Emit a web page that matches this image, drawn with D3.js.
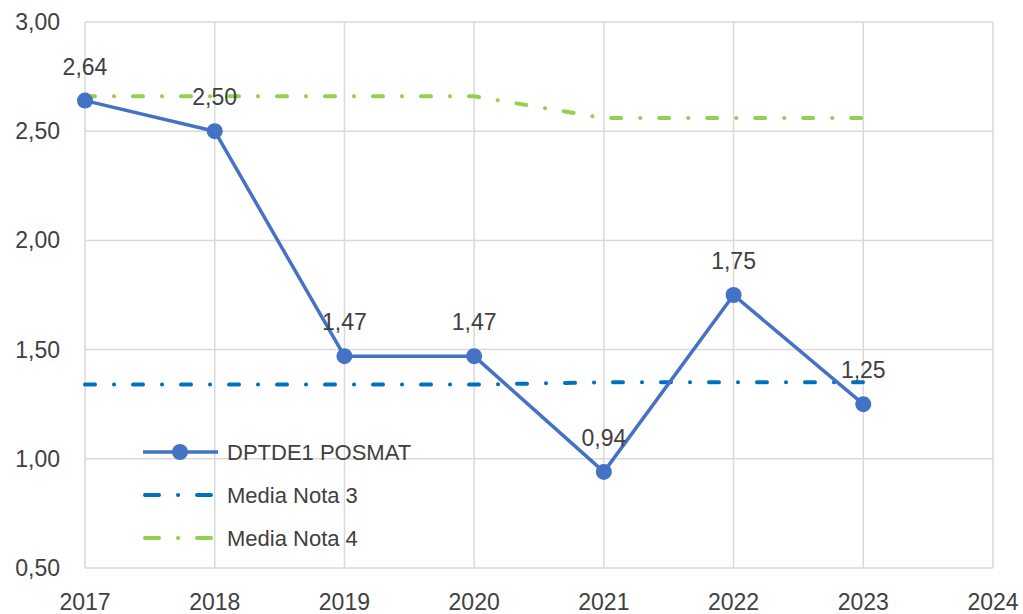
<!DOCTYPE html>
<html>
<head>
<meta charset="utf-8">
<script src="https://cdn.jsdelivr.net/npm/d3@7"></script>
<style>
  body { margin: 0; background: #fff; }
  text { font-family: "Liberation Sans", "DejaVu Sans", sans-serif; fill: #404040; }
</style>
</head>
<body>
<div id="chart"></div>
<script>
const years = [2017, 2018, 2019, 2020, 2021, 2022, 2023];
const posmat = [2.64, 2.50, 1.47, 1.47, 0.94, 1.75, 1.25];
const mediaNota3 = [1.34, 1.34, 1.34, 1.34, 1.35, 1.35, 1.35];
const mediaNota4 = [2.66, 2.66, 2.66, 2.66, 2.56, 2.56, 2.56];
const xTicks = [2017, 2018, 2019, 2020, 2021, 2022, 2023, 2024];
const yTicks = [0.5, 1.0, 1.5, 2.0, 2.5, 3.0];

const width = 1023, height = 614;
const margin = { top: 22, right: 30, bottom: 46, left: 85 };

const svg = d3.select("#chart").append("svg")
    .attr("width", width)
    .attr("height", height);

const x = d3.scaleLinear().domain([2017, 2024]).range([margin.left, width - margin.right]);
const y = d3.scaleLinear().domain([0.5, 3.0]).range([height - margin.bottom, margin.top]);

const fmt = (v) => d3.format(".2f")(v).replace(".", ",");

// grid
svg.append("g")
    .selectAll("line.h")
    .data(yTicks)
    .join("line")
        .attr("x1", x(2017)).attr("x2", x(2024))
        .attr("y1", d => y(d)).attr("y2", d => y(d))
        .attr("stroke", "#d9d9d9").attr("stroke-width", 1.5);

svg.append("g")
    .selectAll("line.v")
    .data(xTicks)
    .join("line")
        .attr("x1", d => x(d)).attr("x2", d => x(d))
        .attr("y1", y(0.5)).attr("y2", y(3.0))
        .attr("stroke", "#d9d9d9").attr("stroke-width", 1.5);

// axis labels
svg.append("g")
    .selectAll("text")
    .data(yTicks)
    .join("text")
        .attr("x", 60)
        .attr("y", d => y(d))
        .attr("dy", "0.35em")
        .attr("text-anchor", "end")
        .style("font-size", "23px")
        .text(fmt);

svg.append("g")
    .selectAll("text")
    .data(xTicks)
    .join("text")
        .attr("x", d => x(d))
        .attr("y", 602)
        .attr("dy", "0.35em")
        .attr("text-anchor", "middle")
        .style("font-size", "23px")
        .text(d => d);

const dashPattern = "10,19,0.1,18.9";
const line = d3.line().x((d, i) => x(years[i])).y(d => y(d));

svg.append("path")
    .datum(mediaNota3)
    .attr("d", line)
    .attr("fill", "none")
    .attr("stroke", "#0070c0")
    .attr("stroke-width", 4)
    .attr("stroke-linecap", "round")
    .attr("stroke-dasharray", dashPattern);

svg.append("path")
    .datum(mediaNota4)
    .attr("d", line)
    .attr("fill", "none")
    .attr("stroke", "#92d050")
    .attr("stroke-width", 4)
    .attr("stroke-linecap", "round")
    .attr("stroke-dasharray", dashPattern);

svg.append("path")
    .datum(posmat)
    .attr("d", line)
    .attr("fill", "none")
    .attr("stroke", "#4472c4")
    .attr("stroke-width", 3.5)
    .attr("stroke-linejoin", "round");

svg.append("g")
    .selectAll("circle")
    .data(posmat)
    .join("circle")
        .attr("cx", (d, i) => x(years[i]))
        .attr("cy", d => y(d))
        .attr("r", 8)
        .attr("fill", "#4472c4");

svg.append("g")
    .selectAll("text")
    .data(posmat)
    .join("text")
        .attr("x", (d, i) => x(years[i]))
        .attr("y", d => y(d) - 34)
        .attr("dy", "0.35em")
        .attr("text-anchor", "middle")
        .style("font-size", "23px")
        .text(fmt);

// legend
const legendItems = [
    { name: "DPTDE1 POSMAT", color: "#4472c4", dash: null, marker: true },
    { name: "Media Nota 3", color: "#0070c0", dash: dashPattern, marker: false },
    { name: "Media Nota 4", color: "#92d050", dash: dashPattern, marker: false }
];

const legend = svg.append("g")
    .selectAll("g")
    .data(legendItems)
    .join("g")
        .attr("transform", (d, i) => `translate(143, ${452 + i * 43})`);

legend.append("line")
    .attr("x1", d => d.marker ? 0 : 2).attr("x2", 75)
    .attr("y1", 0).attr("y2", 0)
    .attr("stroke", d => d.color)
    .attr("stroke-width", d => d.marker ? 3.5 : 4)
    .attr("stroke-linecap", d => d.marker ? "butt" : "round")
    .attr("stroke-dasharray", d => d.dash ? "14,19,0.1,18.9" : null);

legend.filter(d => d.marker)
    .append("circle")
        .attr("cx", 37).attr("cy", 0).attr("r", 8)
        .attr("fill", d => d.color);

legend.append("text")
    .attr("x", 84)
    .attr("y", 0)
    .attr("dy", "0.35em")
    .style("font-size", "22px")
    .text(d => d.name);
</script>
</body>
</html>
